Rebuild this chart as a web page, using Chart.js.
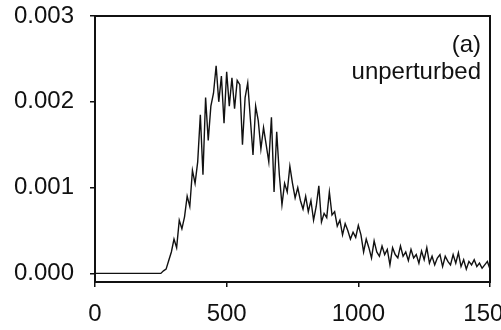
<!DOCTYPE html>
<html>
<head>
<meta charset="utf-8">
<script src="https://cdn.jsdelivr.net/npm/chart.js@4/dist/chart.umd.min.js"></script>
<style>
  body { margin: 0; background: #fff; }
  canvas { display: block; }
</style>
</head>
<body>
<canvas id="histChart" width="501" height="330"></canvas>
<script>
// bin positions (x) and density values (in units of 0.001)
const binX = [0, 250, 260, 270, 280, 290, 300, 310, 320, 330, 340, 350, 360, 370, 380, 390,
  400, 410, 420, 430, 440, 450, 460, 470, 480, 490, 500, 510, 520, 530, 540, 550, 560, 570, 580, 590,
  600, 610, 620, 630, 640, 650, 660, 670, 680, 690, 700, 710, 720, 730, 740, 750, 760, 770, 780, 790,
  800, 810, 820, 830, 840, 850, 860, 870, 880, 890, 900, 910, 920, 930, 940, 950, 960, 970, 980, 990,
  1000, 1010, 1020, 1030, 1040, 1050, 1060, 1070, 1080, 1090, 1100, 1110, 1120, 1130, 1140, 1150, 1160, 1170, 1180, 1190,
  1200, 1210, 1220, 1230, 1240, 1250, 1260, 1270, 1280, 1290, 1300, 1310, 1320, 1330, 1340, 1350, 1360, 1370, 1380, 1390,
  1400, 1410, 1420, 1430, 1440, 1450, 1460, 1470, 1480, 1490, 1500];
const densityMilli = [0, 0.00, 0.03, 0.05, 0.15, 0.25, 0.40, 0.30, 0.62, 0.52, 0.66, 0.90, 0.78, 1.20, 1.05, 1.30,
  1.85, 1.15, 2.05, 1.55, 1.95, 2.10, 2.42, 2.00, 2.30, 1.75, 2.35, 1.95, 2.28, 1.92, 2.25, 2.20, 1.50, 2.05, 2.22, 1.80,
  1.38, 1.95, 1.78, 1.45, 1.70, 1.50, 1.30, 1.82, 0.95, 1.65, 1.15, 0.80, 1.05, 0.95, 1.25, 1.05, 0.88, 1.00, 0.85, 0.75,
  0.90, 0.72, 0.85, 0.62, 0.78, 1.02, 0.60, 0.70, 0.65, 0.95, 0.68, 0.72, 0.55, 0.62, 0.45, 0.58, 0.50, 0.40, 0.48, 0.42,
  0.56, 0.45, 0.25, 0.40, 0.30, 0.18, 0.38, 0.25, 0.20, 0.32, 0.22, 0.28, 0.10, 0.30, 0.22, 0.18, 0.32, 0.20, 0.25, 0.15,
  0.28, 0.18, 0.22, 0.12, 0.26, 0.16, 0.30, 0.12, 0.20, 0.10, 0.18, 0.22, 0.08, 0.20, 0.14, 0.10, 0.22, 0.12, 0.24, 0.08,
  0.16, 0.05, 0.14, 0.10, 0.16, 0.08, 0.12, 0.06, 0.10, 0.14, 0.05];
const xTicks = [0, 500, 1000, 1500];
const yTicks = [0, 0.001, 0.002, 0.003];
const panelLabel = "(a)";
const caseLabel = "unperturbed";

const FONT = "'Liberation Sans', Arial, sans-serif";

const points = binX.map((x, i) => ({ x: x, y: densityMilli[i] / 1000 }));

// frame round the plot plus the panel labels
const framePlugin = {
  id: "frame",
  afterDraw(chart) {
    const { ctx, chartArea } = chart;
    ctx.save();
    ctx.strokeStyle = "#111";
    ctx.lineWidth = 2;
    ctx.strokeRect(chartArea.left, chartArea.top, chartArea.right - chartArea.left, chartArea.bottom - chartArea.top);
    ctx.fillStyle = "#111";
    ctx.font = "24px " + FONT;
    ctx.textAlign = "right";
    ctx.textBaseline = "middle";
    ctx.fillText(panelLabel, chartArea.right - 9, 45);
    ctx.fillText(caseLabel, chartArea.right - 9, 72);
    ctx.restore();
  },
};

new Chart(document.getElementById("histChart"), {
  type: "line",
  data: {
    datasets: [{
      data: points,
      borderColor: "#111",
      borderWidth: 1.4,
      pointRadius: 0,
      tension: 0,
      fill: false,
    }],
  },
  options: {
    responsive: false,
    animation: false,
    layout: { padding: { top: 16, right: 11, left: 0, bottom: 0 } },
    plugins: { legend: { display: false }, tooltip: { enabled: false } },
    scales: {
      x: {
        type: "linear",
        min: 0,
        max: 1500,
        afterBuildTicks: (s) => { s.ticks = xTicks.map((v) => ({ value: v })); },
        afterFit: (s) => { s.height = 48; s.paddingLeft = 0; s.paddingRight = 0; },
        ticks: {
          color: "#111",
          font: { family: FONT, size: 24 },
          padding: 13,
          maxRotation: 0,
          autoSkip: false,
          callback: (v) => String(v),
        },
        grid: { drawOnChartArea: false, drawTicks: true, tickLength: 5, color: "#111", lineWidth: 1.5 },
        border: { display: true, color: "#111", width: 2 },
      },
      y: {
        min: -0.0001,
        max: 0.003,
        afterBuildTicks: (s) => { s.ticks = yTicks.map((v) => ({ value: v })); },
        afterFit: (s) => { s.width = 95; s.paddingTop = 0; s.paddingBottom = 0; },
        ticks: {
          color: "#111",
          font: { family: FONT, size: 24 },
          padding: 16,
          callback: (v) => v.toFixed(3),
        },
        grid: { drawOnChartArea: false, drawTicks: true, tickLength: 5, color: "#111", lineWidth: 1.5 },
        border: { display: true, color: "#111", width: 2 },
      },
    },
  },
  plugins: [framePlugin],
});
</script>
</body>
</html>
